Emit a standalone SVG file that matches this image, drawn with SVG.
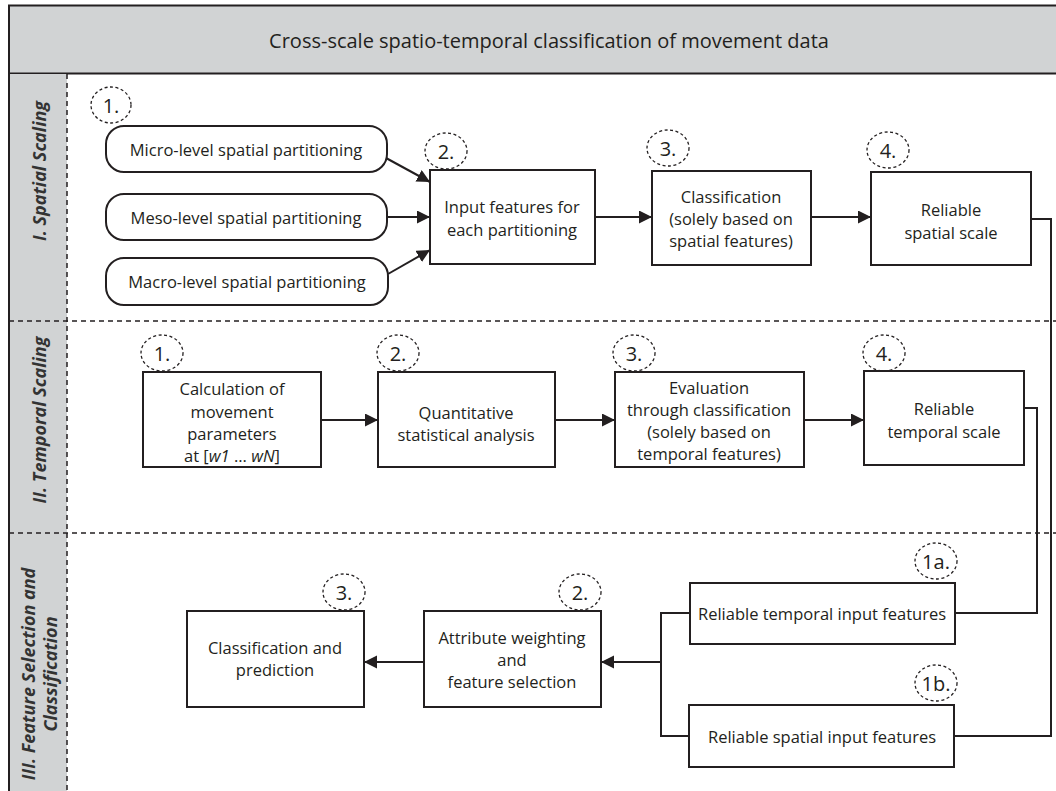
<svg xmlns="http://www.w3.org/2000/svg" width="1056" height="791" viewBox="0 0 1056 791">
<defs>
<marker id="arr" markerUnits="userSpaceOnUse" markerWidth="14" markerHeight="14" refX="13" refY="6.5" orient="auto">
<path d="M0,0 L13,6.5 L0,13 z" fill="#231f20"/>
</marker>
<style>
.box{fill:#fff;stroke:#231f20;stroke-width:2}
.num{fill:none;stroke:#231f20;stroke-width:1.3;stroke-dasharray:3 2.5}
.t{font-family:"Open Sans","Noto Sans",sans-serif;font-size:16.5px;fill:#231f20;text-anchor:middle;dominant-baseline:central}
.n{font-family:"Open Sans","Noto Sans",sans-serif;font-size:20px;fill:#231f20;text-anchor:middle;dominant-baseline:central}
.lane{font-family:"Open Sans","Noto Sans",sans-serif;font-size:18px;font-weight:bold;font-style:italic;fill:#333;text-anchor:middle;dominant-baseline:central}
.dash{stroke:#231f20;stroke-width:1.5;stroke-dasharray:5 4;fill:none}
.c{stroke:#231f20;stroke-width:2;fill:none}
.ca{stroke:#231f20;stroke-width:2;fill:none;marker-end:url(#arr)}
</style>
</defs>
<rect width="1056" height="791" fill="#fff"/>
<g id="frame">
<rect x="9" y="5.5" width="1060" height="68" fill="#d1d3d4" stroke="#231f20" stroke-width="2"/>
<text x="549" y="40" class="t" style="font-size:20px">Cross-scale spatio-temporal classification of movement data</text>
<rect x="9" y="74" width="58" height="720" fill="#d1d3d4"/>
<line x1="9" y1="74" x2="9" y2="791" stroke="#231f20" stroke-width="2"/>
<line x1="67" y1="74" x2="67" y2="791" class="dash"/>
<line x1="9" y1="321" x2="1056" y2="321" class="dash"/>
<line x1="9" y1="533" x2="1056" y2="533" class="dash"/>
<text class="lane" transform="translate(39,171) rotate(-90)">I. Spatial Scaling</text>
<text class="lane" transform="translate(39,420) rotate(-90)">II. Temporal Scaling</text>
<text class="lane" transform="translate(28,674) rotate(-90)">III. Feature Selection and</text>
<text class="lane" transform="translate(50,674) rotate(-90)">Classification</text>
</g>
<g id="connectors">
<line x1="386" y1="158" x2="430" y2="182" class="ca"/>
<line x1="387" y1="217" x2="430" y2="217" class="ca"/>
<line x1="388" y1="274" x2="430" y2="250" class="ca"/>
<line x1="595" y1="217" x2="652" y2="217" class="ca"/>
<line x1="811" y1="217" x2="871" y2="217" class="ca"/>
<polyline points="1031,219 1051,219 1051,736 954,736" class="c"/>
<line x1="321" y1="420" x2="378" y2="420" class="ca"/>
<line x1="555" y1="420" x2="615" y2="420" class="ca"/>
<line x1="804" y1="420" x2="864" y2="420" class="ca"/>
<polyline points="1024,408 1037,408 1037,613 955,613" class="c"/>
<polyline points="690,613 661,613 661,736 689,736" class="c"/>
<line x1="661" y1="662" x2="601" y2="662" class="ca"/>
<line x1="424" y1="662" x2="364" y2="662" class="ca"/>
</g>
<g id="s1">
<ellipse cx="111" cy="105" rx="20" ry="18" class="num"/><text x="111" y="105" class="n">1.</text>
</g>
<g id="micro"><rect x="106" y="126" width="281" height="46" rx="18" class="box"/><text x="246" y="149" class="t">Micro-level spatial partitioning</text></g>
<g id="meso"><rect x="106" y="194" width="281" height="46" rx="18" class="box"/><text x="246" y="217" class="t">Meso-level spatial partitioning</text></g>
<g id="macro"><rect x="106" y="258" width="282" height="47" rx="18" class="box"/><text x="247" y="281" class="t">Macro-level spatial partitioning</text></g>
<g id="s2">
<ellipse cx="446" cy="151" rx="21" ry="18" class="num"/><text x="446" y="151" class="n">2.</text>
<rect x="430" y="170" width="165" height="94" class="box"/>
<text x="512" y="206" class="t">Input features for</text>
<text x="512" y="229" class="t">each partitioning</text>
</g>
<g id="s3">
<ellipse cx="668" cy="148" rx="21" ry="18" class="num"/><text x="668" y="148" class="n">3.</text>
<rect x="652" y="171" width="159" height="94" class="box"/>
<text x="731" y="196" class="t">Classification</text>
<text x="731" y="218" class="t">(solely based on</text>
<text x="731" y="240" class="t">spatial features)</text>
</g>
<g id="s4">
<ellipse cx="888" cy="150" rx="21" ry="18" class="num"/><text x="888" y="150" class="n">4.</text>
<rect x="871" y="172" width="160" height="93" class="box"/>
<text x="951" y="209" class="t">Reliable</text>
<text x="951" y="232" class="t">spatial scale</text>
</g>
<g id="t1">
<ellipse cx="162" cy="353" rx="21" ry="18" class="num"/><text x="162" y="353" class="n">1.</text>
<rect x="143" y="372" width="178" height="95" class="box"/>
<text x="232" y="388" class="t">Calculation of</text>
<text x="232" y="411" class="t">movement</text>
<text x="232" y="433" class="t">parameters</text>
<text x="232" y="455" class="t">at [<tspan font-style="italic">w1</tspan> ... <tspan font-style="italic">wN</tspan>]</text>
</g>
<g id="t2">
<ellipse cx="398" cy="353" rx="21" ry="18" class="num"/><text x="398" y="353" class="n">2.</text>
<rect x="378" y="372" width="177" height="95" class="box"/>
<text x="466" y="412" class="t">Quantitative</text>
<text x="466" y="434" class="t">statistical analysis</text>
</g>
<g id="t3">
<ellipse cx="634" cy="353" rx="21" ry="18" class="num"/><text x="634" y="353" class="n">3.</text>
<rect x="615" y="372" width="189" height="95" class="box"/>
<text x="709" y="387" class="t">Evaluation</text>
<text x="709" y="409" class="t">through classification</text>
<text x="709" y="431" class="t">(solely based on</text>
<text x="709" y="453" class="t">temporal features)</text>
</g>
<g id="t4">
<ellipse cx="884" cy="353" rx="21" ry="18" class="num"/><text x="884" y="353" class="n">4.</text>
<rect x="864" y="371" width="160" height="94" class="box"/>
<text x="944" y="408" class="t">Reliable</text>
<text x="944" y="431" class="t">temporal scale</text>
</g>
<g id="f1a">
<ellipse cx="936" cy="561" rx="21" ry="18" class="num"/><text x="936" y="561" class="n">1a.</text>
<rect x="690" y="583" width="265" height="61" class="box"/>
<text x="822" y="613" class="t">Reliable temporal input features</text>
</g>
<g id="f1b">
<ellipse cx="936" cy="683" rx="21" ry="18" class="num"/><text x="936" y="683" class="n">1b.</text>
<rect x="689" y="705" width="265" height="62" class="box"/>
<text x="822" y="736" class="t">Reliable spatial input features</text>
</g>
<g id="f2">
<ellipse cx="580" cy="592" rx="21" ry="18" class="num"/><text x="580" y="592" class="n">2.</text>
<rect x="424" y="611" width="177" height="96" class="box"/>
<text x="512" y="637" class="t">Attribute weighting</text>
<text x="512" y="659" class="t">and</text>
<text x="512" y="681" class="t">feature selection</text>
</g>
<g id="f3">
<ellipse cx="344" cy="592" rx="21" ry="18" class="num"/><text x="344" y="592" class="n">3.</text>
<rect x="187" y="611" width="177" height="96" class="box"/>
<text x="275" y="647" class="t">Classification and</text>
<text x="275" y="669" class="t">prediction</text>
</g>
</svg>
